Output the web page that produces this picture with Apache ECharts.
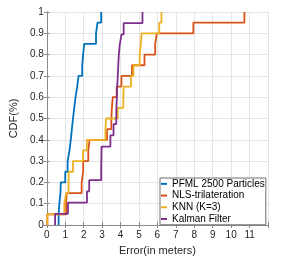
<!DOCTYPE html>
<html>
<head>
<meta charset="utf-8">
<script src="https://cdn.jsdelivr.net/npm/echarts@6/dist/echarts.min.js"></script>
<style>html,body{margin:0;padding:0;background:#fff}#c{width:286px;height:261px}</style>
</head>
<body>
<div id="c"></div>
<script>
// Series names (legend order)
const seriesNames = ['PFML 2500 Particles', 'NLS-trilateration', 'KNN (K=3)', 'Kalman Filter'];
// Sorted error samples (metres)
const pfmlErrors   = [0.64, 0.68, 0.74, 0.76, 1.0, 1.13, 1.23, 1.3, 1.36, 1.42, 1.49, 1.56, 1.65, 1.72, 1.92, 1.97, 2.03, 2.67, 2.75, 2.95];
const nlsErrors    = [0.03, 1.05, 1.08, 1.89, 1.97, 1.98, 2.25, 2.32, 3.27, 3.5, 3.53, 3.58, 3.79, 4.05, 4.62, 5.3, 5.88, 5.97, 7.95, 10.72];
const knnErrors    = [0.03, 0.95, 1.05, 1.18, 1.19, 1.42, 1.97, 2.17, 3.18, 3.22, 3.85, 4.15, 4.17, 4.57, 4.7, 5.04, 5.1, 5.14, 6.1, 6.22];
const kalmanErrors = [0.45, 1.15, 2.18, 2.3, 2.95, 2.96, 2.97, 3.45, 3.62, 3.77, 3.79, 3.81, 3.84, 3.87, 3.9, 3.95, 4.05, 4.17, 5.19];
const colors = ['#0072BD', '#D95319', '#EDB120', '#7E2F8E'];
// Axis ticks
const xTicks = [0, 1, 2, 3, 4, 5, 6, 7, 8, 9, 10, 11];
const yTicks = [0, 0.1, 0.2, 0.3, 0.4, 0.5, 0.6, 0.7, 0.8, 0.9, 1];

function ecdf(samples) {
  const n = samples.length;
  const pts = [[samples[0], 0]];
  samples.forEach((x, i) => pts.push([x, (i + 1) / n]));
  return pts;
}
const allErrors = [pfmlErrors, nlsErrors, knnErrors, kalmanErrors];

const font = 'Liberation Sans, Arial, Helvetica, sans-serif';
const axisColor = '#8a8a8a';
const gridColor = '#e4e4e4';
const chart = echarts.init(document.getElementById('c'), null, {renderer: 'canvas'});

const xBase = {
  type: 'value', min: 0, max: 12, interval: 1,
  axisLine: {show: true, lineStyle: {color: axisColor, width: 1}},
  axisTick: {show: true, inside: true, length: 3, lineStyle: {color: axisColor}},
  splitLine: {show: false}
};
const yBase = {
  type: 'value', min: 0, max: 1, interval: 0.1,
  axisLine: {show: true, lineStyle: {color: axisColor, width: 1}},
  axisTick: {show: true, inside: true, length: 3, lineStyle: {color: axisColor}},
  splitLine: {show: false}
};

chart.setOption({
  animation: false,
  backgroundColor: '#fff',
  textStyle: {fontFamily: font},
  grid: {left: 37, top: 12, right: 18, bottom: 32, containLabel: false},
  xAxis: [
    Object.assign({}, xBase, {
      position: 'bottom',
      name: 'Error(in meters)', nameLocation: 'middle', nameGap: 20,
      nameTextStyle: {fontSize: 11, color: '#262626', fontFamily: font},
      axisLabel: {show: true, margin: 5, fontSize: 10, color: '#262626', fontFamily: font,
        formatter: v => (xTicks.indexOf(v) >= 0 ? String(v) : '')},
      splitLine: {show: true, lineStyle: {color: gridColor, width: 1}}
    }),
    Object.assign({}, xBase, {position: 'top', axisLabel: {show: false}})
  ],
  yAxis: [
    Object.assign({}, yBase, {
      position: 'left',
      name: 'CDF(%)', nameLocation: 'middle', nameGap: 24, nameRotate: 90,
      nameTextStyle: {fontSize: 11, color: '#262626', fontFamily: font},
      axisLabel: {show: true, margin: 3, fontSize: 10, color: '#262626', fontFamily: font,
        formatter: v => { const t = yTicks.find(k => Math.abs(k - v) < 1e-6); return t === undefined ? '' : String(t); }},
      splitLine: {show: true, lineStyle: {color: gridColor, width: 1}}
    }),
    Object.assign({}, yBase, {position: 'right', axisLabel: {show: false}})
  ],
  legend: {
    orient: 'vertical', left: 160, top: 178,
    data: seriesNames,
    icon: 'rect', itemWidth: 6, itemHeight: 2, itemGap: 0,
    padding: [0, 1, 0, 1],
    backgroundColor: '#fff', borderColor: '#6e6e6e', borderWidth: 1,
    textStyle: {fontSize: 10, color: '#000', fontFamily: font, lineHeight: 11.7}
  },
  series: seriesNames.map((name, i) => ({
    name: name, type: 'line', step: 'end',
    xAxisIndex: 0, yAxisIndex: 0,
    data: ecdf(allErrors[i]),
    showSymbol: false, symbol: 'none',
    lineStyle: {color: colors[i], width: 1.8},
    itemStyle: {color: colors[i]},
    z: 2 + i
  }))
});
</script>
</body>
</html>
